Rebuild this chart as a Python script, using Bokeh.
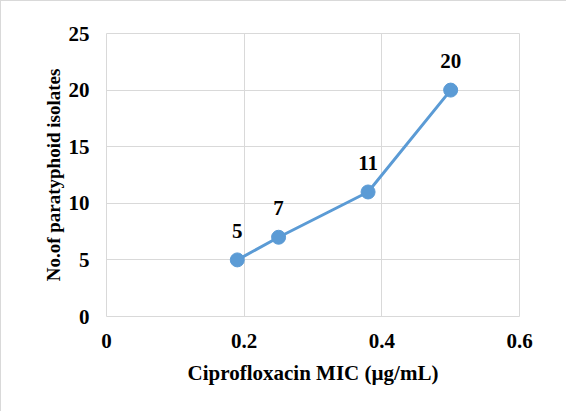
from bokeh.plotting import figure
from bokeh.models import FixedTicker, ColumnDataSource, Range1d
from bokeh.embed import file_html
from bokeh.resources import INLINE
from bokeh.core.properties import value

mic = [0.19, 0.25, 0.38, 0.5]
isolates = [5, 7, 11, 20]
labels = ["5", "7", "11", "20"]
x_ticks = [0, 0.2, 0.4, 0.6]
x_tick_labels = ["0", "0.2", "0.4", "0.6"]
y_ticks = [0, 5, 10, 15, 20, 25]

FONT = "'Liberation Serif', 'Times New Roman', serif"
BLUE = "#5b9bd5"
GRID = "#d9d9d9"

src = ColumnDataSource(dict(x=mic, y=isolates, t=labels))

p = figure(width=566, height=411, output_backend="svg", toolbar_location=None,
           x_range=Range1d(0, 0.6), y_range=Range1d(0, 25),
           min_border_left=105, min_border_right=48, min_border_top=32, min_border_bottom=96)
p.styles = {"border-left": "1px solid #d9d9d9", "border-top": "1px solid #d9d9d9"}

p.outline_line_color = GRID
p.outline_line_width = 1

for ax in (p.xaxis[0], p.yaxis[0]):
    ax.axis_line_color = None
    ax.major_tick_line_color = None
    ax.minor_tick_line_color = None
    ax.major_label_text_font = FONT
    ax.major_label_text_font_style = "bold"
    ax.major_label_text_font_size = "21px"
    ax.major_label_text_color = "black"
    ax.axis_label_text_font = FONT
    ax.axis_label_text_font_style = "bold"
    ax.axis_label_text_color = "black"

p.xaxis.axis_label_text_font_size = "21px"
p.yaxis.axis_label_text_font_size = "19px"
p.xaxis.ticker = FixedTicker(ticks=x_ticks)
p.xaxis.major_label_overrides = {t: s for t, s in zip(x_ticks, x_tick_labels)}
p.yaxis.ticker = FixedTicker(ticks=y_ticks)
p.xaxis.axis_label = "Ciprofloxacin MIC (µg/mL)"
p.yaxis.axis_label = "No.of paratyphoid isolates"
p.xaxis.major_label_standoff = 11
p.xaxis.axis_label_standoff = 10
p.yaxis.major_label_standoff = 11
p.yaxis.axis_label_standoff = 2

p.xgrid.grid_line_color = GRID
p.ygrid.grid_line_color = GRID
p.xgrid.grid_line_width = 1
p.ygrid.grid_line_width = 1

p.line("x", "y", source=src, line_color=BLUE, line_width=3)
p.scatter("x", "y", source=src, size=14, fill_color=BLUE, line_color=BLUE)
p.text("x", "y", text="t", source=src, text_font=value(FONT), text_font_style="bold",
       text_font_size="21px", text_align="center", text_baseline="alphabetic",
       y_offset=-29, text_color="black")

open("out.html", "w").write(file_html(p, INLINE))
